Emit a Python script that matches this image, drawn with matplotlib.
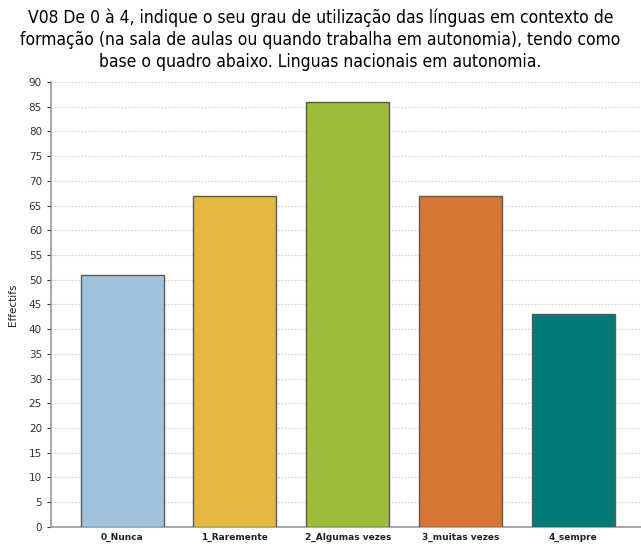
import matplotlib.pyplot as plt

categories = ["0_Nunca", "1_Raremente", "2_Algumas vezes", "3_muitas vezes", "4_sempre"]
values = [51, 67, 86, 67, 43]
colors = ["#9fc3de", "#e2b840", "#9ebb3c", "#d77634", "#007a78"]

title = ("V08 De 0 à 4, indique o seu grau de utilização das línguas em contexto de\n"
         "formação (na sala de aulas ou quando trabalha em autonomia), tendo como\n"
         "base o quadro abaixo. Linguas nacionais em autonomia.")

fig = plt.figure(figsize=(6.41, 5.46), dpi=100)
ax = fig.add_axes([0.0796, 0.035, 0.9204, 0.815])

x = range(len(categories))
ax.bar(x, values, width=0.735, color=colors, edgecolor="#5a5a5a", linewidth=1.0, zorder=3)

ax.set_xlim(-0.63, 4.60)
ax.set_ylim(0, 90)
ax.set_yticks(range(0, 91, 5))
ax.set_xticks(list(x))
ax.set_xticklabels(categories, fontsize=6.5, fontweight="bold", color="#222222")
ax.tick_params(axis="y", labelsize=7.5, colors="#333333", length=3, width=0.8)
ax.tick_params(axis="x", length=0, pad=4)

ax.grid(axis="y", linestyle=(0, (1.5, 1.5)), color="#d4d4d4", linewidth=0.8, zorder=0)
for side in ["top", "right"]:
    ax.spines[side].set_visible(False)
ax.spines["left"].set_color("#999999")
ax.spines["bottom"].set_color("#999999")
ax.spines["left"].set_linewidth(1.2)
ax.spines["bottom"].set_linewidth(1.2)

ax.set_ylabel("Effectifs", fontsize=7.5, color="#222222", labelpad=8)

fig.text(0.5, 0.985, title, ha="center", va="top", fontsize=12.5,
         family="DejaVu Sans", stretch="condensed", linespacing=1.3)

fig.savefig("out.png", dpi=100)
